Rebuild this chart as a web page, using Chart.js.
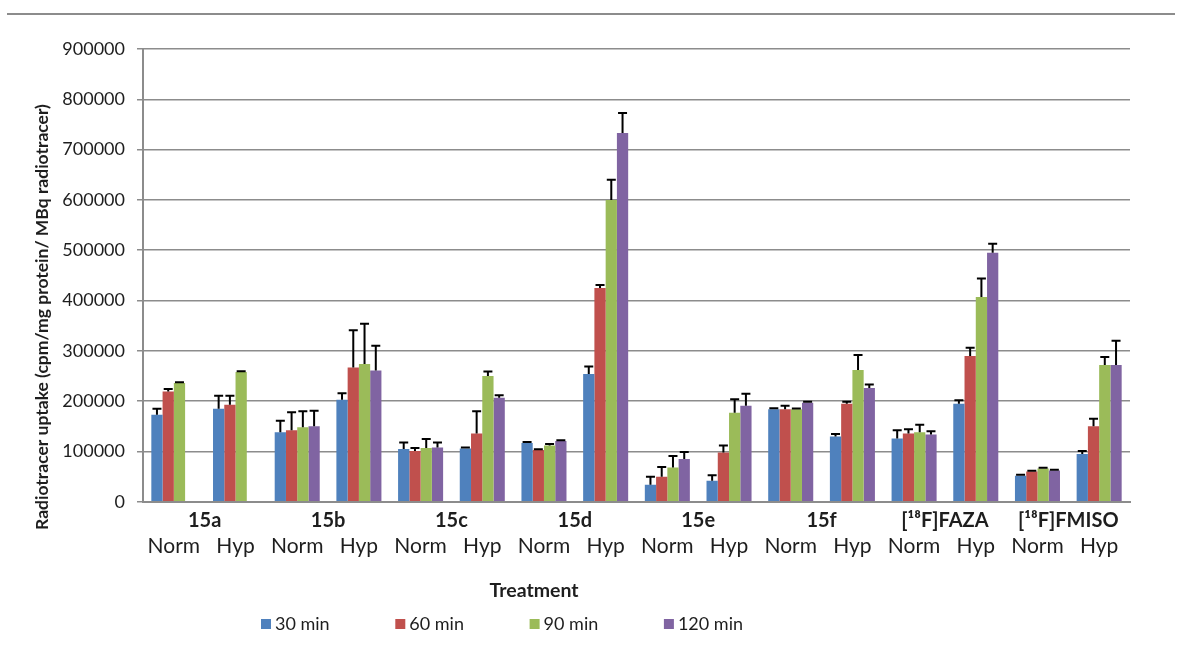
<!DOCTYPE html>
<html>
<head>
<meta charset="utf-8">
<script src="https://cdn.jsdelivr.net/npm/chart.js@4.4.0/dist/chart.umd.min.js"></script>
<style>
  html, body { margin: 0; padding: 0; background: #fff; }
  #wrap { position: relative; width: 1181px; height: 655px; }
  #rule { position: absolute; left: 7px; right: 6px; top: 13px; height: 2px; background: #8c8c8c; }
  canvas { position: absolute; left: 0; top: 0; }
</style>
</head>
<body>
<div id="wrap">
  <canvas id="out" width="1181" height="655"></canvas>
  <div id="rule"></div>
</div>
<script>
// x categories: two per compound
const conditions = ["Norm", "Hyp", "Norm", "Hyp", "Norm", "Hyp", "Norm", "Hyp",
                    "Norm", "Hyp", "Norm", "Hyp", "Norm", "Hyp", "Norm", "Hyp"];
const compounds = ["15a", "15b", "15c", "15d", "15e", "15f", "[\u00b9\u2078F]FAZA", "[\u00b9\u2078F]FMISO"];

// means
const min30  = [173000, 185000, 138000, 203000, 105000, 106000, 117000, 254000,
                34000, 42000, 184000, 130000, 126000, 195000, 52000, 95000];
const min60  = [219000, 193000, 142000, 267000, 101000, 136000, 103000, 425000,
                50000, 98000, 184000, 195000, 136000, 290000, 60000, 150000];
const min90  = [236000, 258000, 148000, 274000, 107000, 250000, 112000, 600000,
                68000, 177000, 184000, 262000, 138000, 407000, 66000, 272000];
const min120 = [null, null, 150000, 261000, 108000, 207000, 121000, 733000,
                85000, 191000, 197000, 226000, 134000, 495000, 62000, 272000];

// upper error bars
const min30Err  = [12000, 26000, 23000, 13000, 13000, 2000, 2000, 15000,
                   16000, 11000, 2000, 5000, 16000, 7000, 2000, 6000];
const min60Err  = [5000, 18000, 36000, 74000, 6000, 44000, 1500, 6000,
                   19000, 14000, 7000, 4000, 8000, 16000, 1500, 15000];
const min90Err  = [1500, 1500, 32000, 80000, 18000, 9000, 3000, 40000,
                   23000, 27000, 1500, 30000, 15000, 37000, 1500, 16000];
const min120Err = [null, null, 31000, 49000, 10000, 5000, 1500, 40000,
                   14000, 24000, 2000, 7000, 6000, 18000, 1500, 48000];

const yTicks = [0, 100000, 200000, 300000, 400000, 500000, 600000, 700000, 800000, 900000];

const FONT = "Lato, 'Open Sans', sans-serif";
const GRID = "#8c8c8c";
const TEXT = "#1e1e1e";

const errorBars = {
  id: "errorBars",
  afterDatasetsDraw(chart) {
    const ctx = chart.ctx;
    const yScale = chart.scales.y;
    ctx.save();
    ctx.strokeStyle = "#000";
    ctx.lineWidth = 2;
    chart.data.datasets.forEach((ds, i) => {
      const meta = chart.getDatasetMeta(i);
      meta.data.forEach((bar, j) => {
        const v = ds.data[j];
        const e = ds.errors[j];
        if (v == null || e == null) return;
        const x = bar.x;
        const y0 = yScale.getPixelForValue(v);
        const y1 = yScale.getPixelForValue(v + e);
        ctx.beginPath();
        ctx.moveTo(x, y0);
        ctx.lineTo(x, y1);
        ctx.moveTo(x - 4.5, y1);
        ctx.lineTo(x + 4.5, y1);
        ctx.stroke();
      });
    });
    ctx.restore();
  }
};

// axis titles and legend, placed like the Excel original
const extraText = {
  id: "extraText",
  afterDraw(chart) {
    const ctx = chart.ctx;
    ctx.save();
    ctx.fillStyle = TEXT;
    ctx.textBaseline = "middle";

    ctx.save();
    ctx.translate(42, 317);
    ctx.rotate(-Math.PI / 2);
    ctx.textAlign = "center";
    ctx.font = "bold 17.5px " + FONT;
    ctx.fillText("Radiotracer uptake (cpm/mg protein/ MBq radiotracer)", 0, 0);
    ctx.restore();

    ctx.textAlign = "center";
    ctx.font = "bold 19.5px " + FONT;
    ctx.fillText("Treatment", 534, 591);

    ctx.textAlign = "left";
    ctx.font = "18px " + FONT;
    chart.data.datasets.forEach((ds, i) => {
      const x = 261 + i * 134.3;
      ctx.fillStyle = ds.backgroundColor;
      ctx.fillRect(x, 619, 10, 10);
      ctx.fillStyle = TEXT;
      ctx.fillText(ds.label, x + 14, 624);
    });
    ctx.restore();
  }
};

const canvasCtx = document.getElementById("out").getContext("2d");

const chartConfig = {
  type: "bar",
  data: {
    labels: conditions,
    datasets: [
      { label: "30 min", data: min30, errors: min30Err, backgroundColor: "#4f81bd" },
      { label: "60 min", data: min60, errors: min60Err, backgroundColor: "#c0504d" },
      { label: "90 min", data: min90, errors: min90Err, backgroundColor: "#9bbb59" },
      { label: "120 min", data: min120, errors: min120Err, backgroundColor: "#8064a2" }
    ]
  },
  options: {
    responsive: false,
    animation: false,
    layout: { padding: { top: 49, right: 51, bottom: 95, left: 0 } },
    datasets: { bar: { categoryPercentage: 0.73, barPercentage: 1 } },
    plugins: { legend: { display: false }, tooltip: { enabled: false } },
    scales: {
      x: {
        type: "category",
        position: "bottom",
        weight: 1,
        grid: { display: false, drawTicks: false },
        border: { display: false },
        ticks: { font: { family: FONT, size: 21 }, color: TEXT, padding: 1,
                 maxRotation: 0, autoSkip: false }
      },
      x2: {
        type: "category",
        position: "bottom",
        labels: compounds,
        offset: true,
        weight: 0,
        afterFit(scale) { scale.height = 31; },
        grid: { display: false, drawTicks: false },
        border: { display: true, color: GRID, width: 2 },
        ticks: { font: { family: FONT, size: 20, weight: "bold" }, color: TEXT, padding: 7,
                 maxRotation: 0, autoSkip: false }
      },
      y: {
        min: 0,
        max: 900000,
        afterBuildTicks(scale) { scale.ticks = yTicks.map(v => ({ value: v })); },
        afterFit(scale) { scale.width = 143; },
        grid: { color: GRID, lineWidth: 1.5, tickLength: 6 },
        border: { color: GRID, width: 2 },
        ticks: { font: { family: FONT, size: 18 }, color: TEXT, padding: 12,
                 callback: v => String(v) }
      }
    }
  },
  plugins: [errorBars, extraText]
};

window.chart = new Chart(canvasCtx, chartConfig);
</script>
</body>
</html>
